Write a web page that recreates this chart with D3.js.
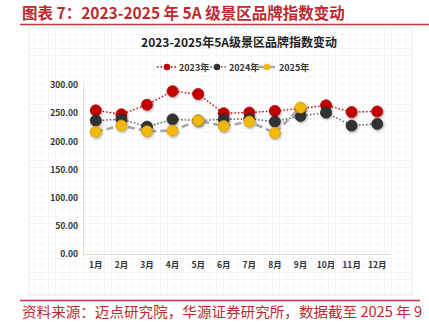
<!DOCTYPE html>
<html><head><meta charset="utf-8">
<script src="https://cdn.jsdelivr.net/npm/d3@7"></script>
<style>
html,body{margin:0;padding:0;background:#fff;}
svg{display:block;}
text{font-family:"Noto Sans CJK SC","Noto Sans",sans-serif;}
</style></head>
<body>
<svg id="c" width="429" height="322"></svg>
<script>
const months = ["1月","2月","3月","4月","5月","6月","7月","8月","9月","10月","11月","12月"];
const s2023 = [255, 248, 265, 289, 284, 250, 251, 254, 258, 264, 252, 253];
const s2024 = [237, 239, 226, 239, 237, 239, 240, 235, 245, 251, 228, 231];
const s2025 = [217, 228, 218, 219, 237, 227, 235, 215, 260, null, null, null];
const yTicks = [0, 50, 100, 150, 200, 250, 300];
const seriesNames = ["2023年", "2024年", "2025年"];

const svg = d3.select("#c");
const defs = svg.append("defs");
const pat = defs.append("pattern").attr("id","grid").attr("width",7).attr("height",7).attr("patternUnits","userSpaceOnUse");
pat.append("rect").attr("width",7).attr("height",7).attr("fill","#fff");
pat.append("path").attr("d","M7 0V7M0 7H7").attr("stroke","#eeeeee").attr("stroke-width",1).attr("fill","none");
const f = defs.append("filter").attr("id","sh").attr("x","-50%").attr("y","-50%").attr("width","200%").attr("height","200%");
f.append("feDropShadow").attr("dx",0.8).attr("dy",1.2).attr("stdDeviation",1).attr("flood-color","#000").attr("flood-opacity",0.35);

// header
svg.append("text").attr("x",22).attr("y",19).attr("fill","#c0282e").attr("font-size",15.5).attr("font-weight",700)
  .text("图表 7：2023-2025 年 5A 级景区品牌指数变动");
svg.append("line").attr("x1",20).attr("x2",429).attr("y1",24.5).attr("y2",24.5).attr("stroke","#c8323a").attr("stroke-width",1.6);

// panel
svg.append("rect").attr("x",29).attr("y",28).attr("width",383).attr("height",267).attr("fill","url(#grid)")
  .attr("stroke","#e6e6e6").attr("stroke-width",0.8);

// chart title
svg.append("text").attr("x",239).attr("y",47).attr("text-anchor","middle").attr("font-size",12).attr("font-weight",700).attr("fill","#222")
  .text("2023-2025年5A级景区品牌指数变动");

const x = d3.scaleBand().domain(months).range([83, 390]).padding(0);
const y = d3.scaleLinear().domain([0, 300]).range([254, 85]);
const cx = m => x(m) + x.bandwidth()/2;

// axes
const yAxis = svg.append("g").attr("transform","translate(83,0)")
  .call(d3.axisLeft(y).tickValues(yTicks).tickSize(0).tickPadding(5).tickFormat(d3.format(".2f")));
yAxis.select(".domain").attr("stroke","#e2dccb").attr("stroke-width",1);
yAxis.selectAll("text").attr("font-size",8.5).attr("font-weight",700).attr("fill","#333");

const xAxis = svg.append("g").attr("transform","translate(0,254)")
  .call(d3.axisBottom(x).tickSize(0).tickPadding(8));
xAxis.select(".domain").attr("stroke","#e2dccb").attr("stroke-width",1);
xAxis.selectAll("text").attr("font-size",8.5).attr("font-weight",700).attr("fill","#333");

const series = [
  {name: seriesNames[0], vals: s2023, line:"#c00000", lw:1.4, dash:"1.5 2", fill:"#c00000", stroke:"#b00000"},
  {name: seriesNames[1], vals: s2024, line:"#555555", lw:1.4, dash:"1.5 2", fill:"#333333", stroke:"#2a2a2a"},
  {name: seriesNames[2], vals: s2025, line:"#a6a6a6", lw:2.6, dash:"7 4", fill:"#f2b80c", stroke:"#d9a106"}
];

const lineGen = d3.line().defined(d => d.v != null).x(d => cx(d.m)).y(d => y(d.v));
series.forEach(s => {
  const pts = months.map((m,i) => ({m, v: s.vals[i]}));
  svg.append("path").datum(pts).attr("d", lineGen).attr("fill","none")
    .attr("stroke", s.line).attr("stroke-width", s.lw).attr("stroke-dasharray", s.dash);
  svg.append("g").selectAll("circle").data(pts.filter(d => d.v != null)).join("circle")
    .attr("cx", d => cx(d.m)).attr("cy", d => y(d.v)).attr("r", 5.5)
    .attr("fill", s.fill).attr("stroke", s.stroke).attr("stroke-width", 0.8).attr("filter","url(#sh)");
});

// legend
const legX = [157, 207, 257];
series.forEach((s,i) => {
  const g = svg.append("g").attr("transform", `translate(${legX[i]},67)`);
  g.append("line").attr("x1",0).attr("x2",20).attr("y1",0).attr("y2",0)
    .attr("stroke", s.line).attr("stroke-width", s.lw).attr("stroke-dasharray", s.dash);
  g.append("circle").attr("cx",10).attr("cy",0).attr("r",3.3).attr("fill", s.fill);
  g.append("text").attr("x",22).attr("y",3.5).attr("font-size",9).attr("font-weight",600).attr("fill","#333").text(s.name);
});

// footer
svg.append("line").attr("x1",20).attr("x2",420).attr("y1",300.5).attr("y2",300.5).attr("stroke","#c8323a").attr("stroke-width",1.4);
svg.append("text").attr("x",22).attr("y",316.5).attr("fill","#c0282e").attr("font-size",14)
  .attr("textLength",400).attr("lengthAdjust","spacingAndGlyphs")
  .text("资料来源：迈点研究院，华源证券研究所，数据截至 2025 年 9");
</script>
</body></html>
